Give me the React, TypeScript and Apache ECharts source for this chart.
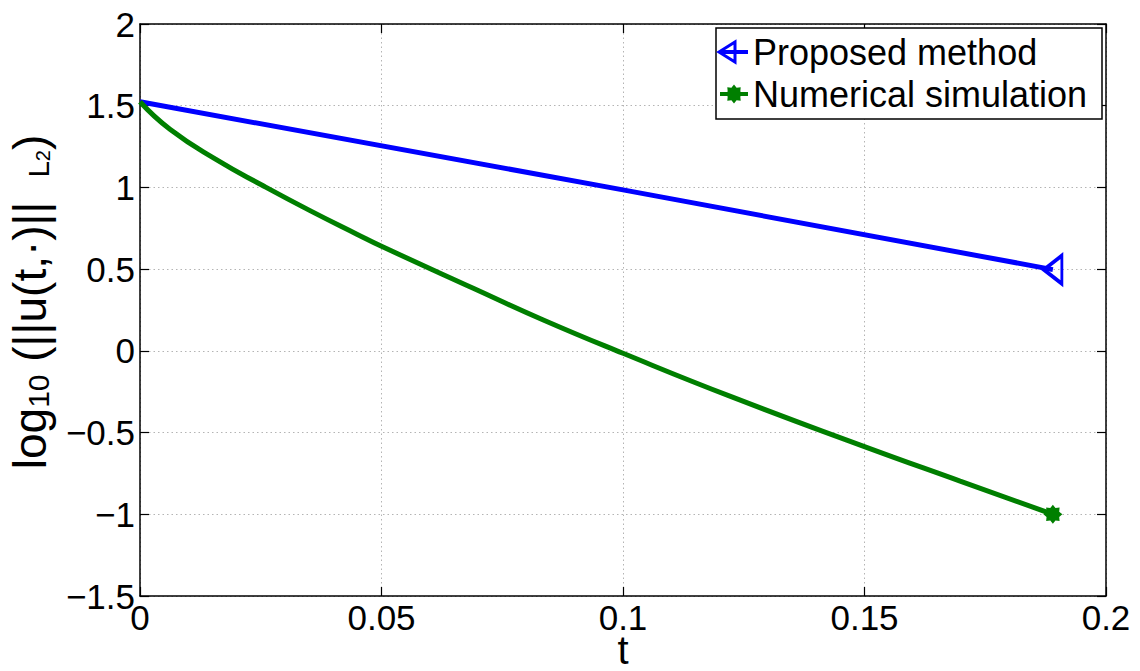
import React, { useEffect, useRef } from "react";
import * as echarts from "echarts";

const xTicks = [0, 0.05, 0.1, 0.15, 0.2];
const yTicks = [-1.5, -1, -0.5, 0, 0.5, 1, 1.5, 2];

const proposedT = [0, 0.1, 0.189];
const proposedV = [1.524, 0.985, 0.497];

const numericalT = [0, 0.0062, 0.0159, 0.0255, 0.0352, 0.0449, 0.05, 0.069, 0.0835, 0.1, 0.1228, 0.149, 0.1698, 0.189];
const numericalV = [1.524, 1.356, 1.168, 1.01, 0.858, 0.714, 0.64, 0.383, 0.189, -0.015, -0.285, -0.575, -0.797, -1.0];

const seriesNames = ["Proposed method", "Numerical simulation"];

const FONT = "'Liberation Sans', Arial, Helvetica, sans-serif";
const BLUE = "#0000ff";
const GREEN = "#007f00";

const STAR_PATH =
  "path://M100 50 L83.26 63.78 L85.36 85.36 L63.78 83.26 L50 100 L36.22 83.26 L14.64 85.36 L16.74 63.78 L0 50 L16.74 36.22 L14.64 14.64 L36.22 16.74 L50 0 L63.78 16.74 L85.36 14.64 L83.26 36.22 Z";

function starPoints(cx: number, cy: number, R: number, r: number): number[][] {
  const pts: number[][] = [];
  for (let k = 0; k < 16; k++) {
    const a = (k * Math.PI) / 8;
    const rad = k % 2 === 0 ? R : r;
    pts.push([cx + rad * Math.cos(a), cy + rad * Math.sin(a)]);
  }
  return pts;
}

function fmt(v: number): string {
  const s = String(Number(v.toFixed(3)));
  return v < 0 ? "\u2212" + s.slice(1) : s;
}

export default function App() {
  const ref = useRef<HTMLDivElement>(null);
  useEffect(() => {
    if (!ref.current) return;
    const chart = echarts.init(ref.current, undefined, { renderer: "svg" });
    const xMin = xTicks[0];
    const xMax = xTicks[xTicks.length - 1];
    const xInt = xTicks[1] - xTicks[0];
    const yMin = yTicks[0];
    const yMax = yTicks[yTicks.length - 1];
    const yInt = yTicks[1] - yTicks[0];

    const axisLine = { show: true, onZero: false, lineStyle: { color: "#000", width: 1.5 } };
    const tick = { show: true, inside: true, length: 9, lineStyle: { color: "#000", width: 1.2 } };
    const grid = { show: true, lineStyle: { color: "#b4b4b4", width: 1, type: [1.5, 3] as any } };

    const blueData = proposedT.map((t, i) => {
      const item: any = { value: [t, proposedV[i]] };
      if (i === proposedT.length - 1) {
        item.symbol = "triangle";
        item.symbolSize = [28, 18];
        item.symbolRotate = 90;
      }
      return item;
    });
    const greenData = numericalT.map((t, i) => {
      const item: any = { value: [t, numericalV[i]] };
      if (i === numericalT.length - 1) {
        item.symbol = STAR_PATH;
        item.symbolSize = 19;
      }
      return item;
    });

    const lx = 716, ly = 28, lw = 386, lh = 91;
    const row1 = 52, row2 = 94;
    const sub = { fontFamily: FONT, color: "#000", verticalAlign: "bottom" };

    chart.setOption({
      animation: false,
      backgroundColor: "#fff",
      textStyle: { fontFamily: FONT },
      grid: { left: 140, top: 24, right: 34, bottom: 75, containLabel: false, outerBoundsMode: "none" },
      xAxis: [
        {
          type: "value",
          min: xMin,
          max: xMax,
          interval: xInt,
          position: "bottom",
          axisLine,
          axisTick: tick,
          splitLine: grid,
          axisLabel: { color: "#000", fontSize: 35, lineHeight: 32, fontFamily: FONT, margin: 5, formatter: (v: number) => fmt(v) },
          name: "t",
          nameLocation: "middle",
          nameGap: 38,
          nameMoveOverlap: false,
          nameTextStyle: { color: "#000", fontSize: 40, lineHeight: 32, fontFamily: FONT },
        },
        {
          type: "value",
          min: xMin,
          max: xMax,
          interval: xInt,
          position: "top",
          axisLine,
          axisTick: tick,
          splitLine: { show: false },
          axisLabel: { show: false },
        },
      ],
      yAxis: [
        {
          type: "value",
          min: yMin,
          max: yMax,
          interval: yInt,
          position: "left",
          axisLine,
          axisTick: tick,
          splitLine: grid,
          axisLabel: { color: "#000", fontSize: 35, fontFamily: FONT, margin: 5, formatter: (v: number) => fmt(v) },
          name: "{a|log}{s|10}{a| (||u(t,\u00b7)||}{L|   L}{ss|2}{a|)}",
          nameLocation: "middle",
          nameRotate: 90,
          nameGap: 87,
          nameMoveOverlap: false,
          nameTextStyle: {
            color: "#000",
            fontFamily: FONT,
            padding: [0, 0, 0, 16],
            rich: {
              a: { fontSize: 46, fontFamily: FONT, color: "#000", verticalAlign: "bottom" },
              s: { ...sub, fontSize: 30 },
              L: { ...sub, fontSize: 29 },
              ss: { ...sub, fontSize: 20 },
            },
          },
        },
        {
          type: "value",
          min: yMin,
          max: yMax,
          interval: yInt,
          position: "right",
          axisLine,
          axisTick: tick,
          splitLine: { show: false },
          axisLabel: { show: false },
        },
      ],
      series: [
        {
          name: seriesNames[0],
          type: "line",
          xAxisIndex: 0,
          yAxisIndex: 0,
          data: blueData,
          symbol: "none",
          showSymbol: true,
          showAllSymbol: true,
          lineStyle: { color: BLUE, width: 5 },
          itemStyle: { color: "rgba(255,255,255,0)", borderColor: BLUE, borderWidth: 3.5 },
          z: 3,
        },
        {
          name: seriesNames[1],
          type: "line",
          xAxisIndex: 0,
          yAxisIndex: 0,
          data: greenData,
          symbol: "none",
          showSymbol: true,
          showAllSymbol: true,
          smooth: 0.5,
          lineStyle: { color: GREEN, width: 5 },
          itemStyle: { color: GREEN, borderWidth: 0 },
          z: 3,
        },
      ],
      graphic: [
        {
          type: "rect",
          shape: { x: lx, y: ly, width: lw, height: lh },
          style: { fill: "#fff", stroke: "#000", lineWidth: 1.5 },
          z: 10,
        },
        {
          type: "line",
          shape: { x1: 720, y1: row1, x2: 748, y2: row1 },
          style: { stroke: BLUE, lineWidth: 4 },
          z: 11,
        },
        {
          type: "polygon",
          shape: { points: [[719, row1], [735, row1 - 10], [735, row1 + 10]] },
          style: { fill: "rgba(255,255,255,0)", stroke: BLUE, lineWidth: 3 },
          z: 11,
        },
        {
          type: "text",
          x: 753,
          y: row1,
          style: { text: seriesNames[0], fontSize: 36, fontFamily: FONT, fill: "#000", verticalAlign: "middle", align: "left" },
          z: 11,
        },
        {
          type: "line",
          shape: { x1: 720, y1: row2, x2: 748, y2: row2 },
          style: { stroke: GREEN, lineWidth: 4 },
          z: 11,
        },
        {
          type: "polygon",
          shape: { points: starPoints(734, row2, 9.5, 6.8) },
          style: { fill: GREEN },
          z: 11,
        },
        {
          type: "text",
          x: 753,
          y: row2,
          style: { text: seriesNames[1], fontSize: 36, fontFamily: FONT, fill: "#000", verticalAlign: "middle", align: "left" },
          z: 11,
        },
      ],
    });
    return () => chart.dispose();
  }, []);
  return (
    <div
      ref={ref}
      style={{ position: "absolute", left: 0, top: 0, width: 1140, height: 671, background: "#fff" }}
    />
  );
}
